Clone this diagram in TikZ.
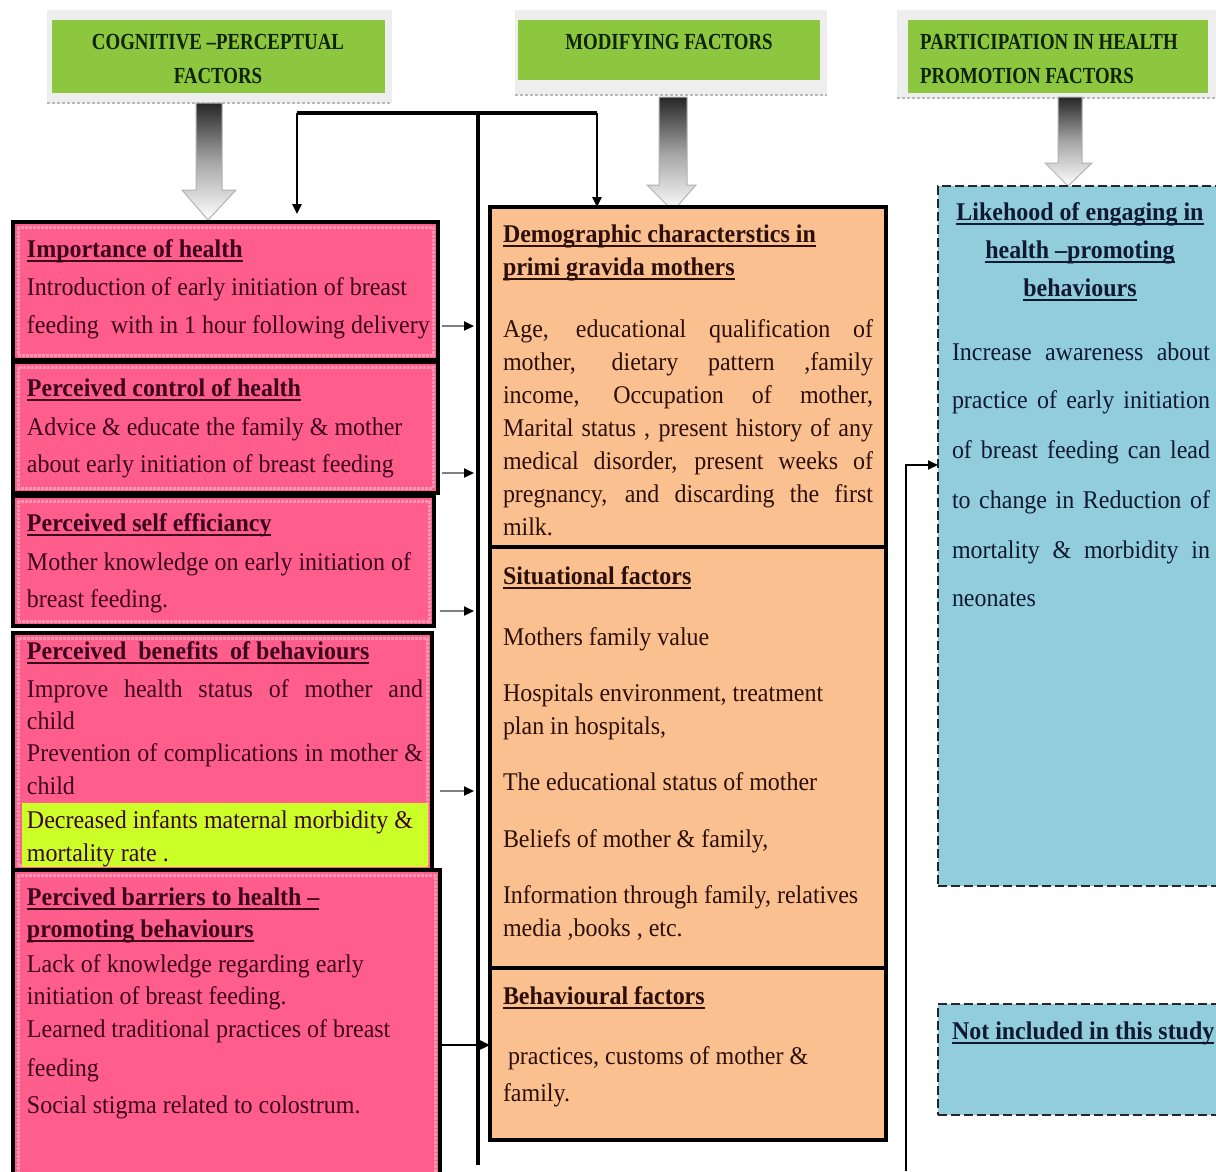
\documentclass[tikz,border=0pt]{standalone}
\usepackage{fontspec}
\setmainfont{Liberation Serif}[FakeStretch=0.94]
\newfontfamily\hdfont{Liberation Serif}[FakeStretch=0.82]
\usetikzlibrary{arrows.meta}
\definecolor{greenc}{RGB}{141,198,63}
\definecolor{pinkc}{RGB}{255,94,140}
\definecolor{pinkl}{RGB}{255,150,180}
\definecolor{orgc}{RGB}{250,192,143}
\definecolor{bluec}{RGB}{146,205,220}
\definecolor{hlc}{RGB}{204,255,40}
\definecolor{pinktxt}{RGB}{60,5,30}
\definecolor{orgtxt}{RGB}{45,15,10}
\definecolor{bluetxt}{RGB}{15,25,50}
\definecolor{hdtxtc}{RGB}{15,35,5}
\definecolor{framec}{RGB}{238,238,238}
\newsavebox\ttlbox
\newcommand\ttl[1]{\sbox\ttlbox{\bfseries #1}\rlap{\rule[-4.5pt]{\wd\ttlbox}{1.8pt}}\usebox\ttlbox}
\newcommand\jst[2]{\makebox[#1][s]{#2}}
\newcounter{tln}
\newcommand\tline[4][]{\stepcounter{tln}\node[txt,#1] (t\thetln) at (#2,#3) {#4};}
\begin{document}
\begin{tikzpicture}[x=1pt,y=-1pt,
  boxbase/.style={anchor=north west, inner sep=0pt, outer sep=0pt},
  pinkbox/.style={boxbase, draw=black, line width=3.4pt, fill=pinkc},
  orgbox/.style={boxbase, draw=black, line width=3.4pt, fill=orgc},
  bluebox/.style={boxbase, draw=black!85, line width=1.5pt, dash pattern=on 9pt off 4pt, fill=bluec},
  hdframe/.style={boxbase, fill=framec},
  hdbox/.style={boxbase, fill=greenc},
  hdtxt/.style={inner sep=0pt, font=\hdfont\bfseries\fontsize{23}{28}\selectfont, text=hdtxtc},
  txt/.style={inner sep=0pt, outer sep=0pt, anchor=base west, font=\fontsize{25.5}{30}\selectfont},
  pk/.style={text=pinktxt},
  og/.style={text=orgtxt},
  bl/.style={text=bluetxt},
  pinkframe/.style={draw=pinkl, line width=3pt, densely dotted},
  bkarrow/.style={top color=black!85, bottom color=white, middle color=black!35, draw=gray!60, line width=1pt},
  conn/.style={draw=black, line width=3.2pt},
  tip/.style={-{Triangle[length=10pt,width=9pt]}},
  sarrow/.style={draw=black!50, line width=2.2pt, -{Triangle[length=10pt,width=9pt,color=black]}}
]
\useasboundingbox (0,0) rectangle (1216,1171);
\clip (0,0) rectangle (1216,1171);
\fill[white] (0,0) rectangle (1216,1171);

% ---------- headers ----------
\node[hdframe, minimum width=345, minimum height=93] (h1f) at (47,10) {};
\node[hdbox, minimum width=333, minimum height=73] (h1) at (52,20) {};
\node[hdtxt] (h1a) at (218,42) {COGNITIVE –PERCEPTUAL};
\node[hdtxt] (h1b) at (218,76) {FACTORS};
\node[hdframe, minimum width=312, minimum height=85] (h2f) at (515,10) {};
\node[hdbox, minimum width=302, minimum height=60] (h2) at (518,20) {};
\node[hdtxt] (h2a) at (669,42) {MODIFYING FACTORS};
\node[hdframe, minimum width=330, minimum height=88] (h3f) at (897,10) {};
\node[hdbox, minimum width=300, minimum height=73] (h3) at (908,20) {};
\node[hdtxt, anchor=west] (h3a) at (920,42) {PARTICIPATION IN HEALTH};
\node[hdtxt, anchor=west] (h3b) at (920,76) {PROMOTION FACTORS};
\foreach \f in {h1f,h2f,h3f}{
  \draw[gray!55, line width=1.5pt, densely dashed] (\f.south west) -- (\f.south east);
}

% ---------- block arrows ----------
\shade[bkarrow] (196,103) -- (222,103) -- (222,190) -- (236,190) -- (208,220) -- (182,190) -- (196,190) -- cycle;
\shade[bkarrow] (659,97) -- (687,97) -- (687,185) -- (696,185) -- (673,211) -- (647,185) -- (659,185) -- cycle;
\shade[bkarrow] (1058,97) -- (1082,97) -- (1082,163) -- (1092,163) -- (1068,186) -- (1045,163) -- (1058,163) -- cycle;

% ---------- left column ----------
\node[pinkbox, minimum width=425, minimum height=138] (p1) at (13,222) {};
\node[pinkbox, minimum width=425, minimum height=131] (p2) at (13,362) {};
\node[pinkbox, minimum width=421, minimum height=130] (p3) at (13,496) {};
\node[pinkbox, minimum width=419, minimum height=237] (p4) at (13,633) {};
\node[pinkbox, minimum width=427, minimum height=320] (p5) at (13,870) {};
\foreach \b in {p1,p2,p3,p4,p5}{
  \draw[pinkframe] ([shift={(5,5)}]\b.north west) rectangle ([shift={(-5,-5)}]\b.south east);
}
\node[boxbase, fill=hlc, minimum width=406, minimum height=64] (hl) at (22,803) {};

\tline[pk]{27}{257}{\ttl{Importance of health}}
\tline[pk]{27}{295}{Introduction of early initiation of breast}
\tline[pk]{27}{333}{feeding\ \ with in 1 hour following delivery}
\tline[pk]{27}{396}{\ttl{Perceived control of health}}
\tline[pk]{27}{435}{Advice \& educate the family \& mother}
\tline[pk]{27}{472}{about early initiation of breast feeding}
\tline[pk]{27}{531}{\ttl{Perceived self efficiancy}}
\tline[pk]{27}{570}{Mother knowledge on early initiation of}
\tline[pk]{27}{607}{breast feeding.}
\tline[pk]{27}{659}{\ttl{Perceived\ \ benefits\ \ of behaviours}}
\tline[pk]{27}{697}{\jst{396pt}{Improve health status of mother and}}
\tline[pk]{27}{729}{child}
\tline[pk]{27}{761}{\jst{396pt}{Prevention of complications in mother \&}}
\tline[pk]{27}{794}{child}
\tline[pk]{27}{828}{Decreased infants maternal morbidity \&}
\tline[pk]{27}{861}{mortality rate .}
\tline[pk]{27}{905}{\ttl{Percived barriers to health –}}
\tline[pk]{27}{937}{\ttl{promoting behaviours}}
\tline[pk]{27}{972}{Lack of knowledge regarding early}
\tline[pk]{27}{1004}{initiation of breast feeding.}
\tline[pk]{27}{1037}{Learned traditional practices of breast}
\tline[pk]{27}{1076}{feeding}
\tline[pk]{27}{1113}{Social stigma related to colostrum.}

% ---------- middle column ----------
\node[orgbox, minimum width=396, minimum height=340] (o1) at (490,207) {};
\node[orgbox, minimum width=396, minimum height=421] (o2) at (490,547) {};
\node[orgbox, minimum width=396, minimum height=172] (o3) at (490,968) {};

\tline[og]{503}{242}{\ttl{Demographic characterstics in}}
\tline[og]{503}{275}{\ttl{primi gravida mothers}}
\tline[og]{503}{337}{\jst{370pt}{Age, educational qualification of}}
\tline[og]{503}{370}{\jst{370pt}{mother, dietary pattern ,family}}
\tline[og]{503}{403}{\jst{370pt}{income, Occupation of mother,}}
\tline[og]{503}{436}{\jst{370pt}{Marital status , present history of any}}
\tline[og]{503}{469}{\jst{370pt}{medical disorder, present weeks of}}
\tline[og]{503}{502}{\jst{370pt}{pregnancy, and discarding the first}}
\tline[og]{503}{535}{milk.}
\tline[og]{503}{584}{\ttl{Situational factors}}
\tline[og]{503}{645}{Mothers family value}
\tline[og]{503}{701}{Hospitals environment, treatment}
\tline[og]{503}{734}{plan in hospitals,}
\tline[og]{503}{790}{The educational status of mother}
\tline[og]{503}{847}{Beliefs of mother \& family,}
\tline[og]{503}{903}{Information through family, relatives}
\tline[og]{503}{936}{media ,books , etc.}
\tline[og]{503}{1004}{\ttl{Behavioural factors}}
\tline[og]{508}{1064}{practices, customs of mother \&}
\tline[og]{503}{1101}{family.}

% ---------- right column ----------
\node[bluebox, minimum width=300, minimum height=700] (b1) at (938,186) {};
\node[bluebox, minimum width=300, minimum height=111] (b2) at (938,1004) {};

\tline[bl,anchor=base]{1080}{220}{\ttl{Likehood of engaging in}}
\tline[bl,anchor=base]{1080}{258}{\ttl{health –promoting}}
\tline[bl,anchor=base]{1080}{296}{\ttl{behaviours}}
\tline[bl]{952}{360}{\jst{258pt}{Increase awareness about}}
\tline[bl]{952}{408}{\jst{258pt}{practice of early initiation}}
\tline[bl]{952}{458}{\jst{258pt}{of breast feeding can lead}}
\tline[bl]{952}{508}{\jst{258pt}{to change in Reduction of}}
\tline[bl]{952}{558}{\jst{258pt}{mortality \& morbidity in}}
\tline[bl]{952}{606}{neonates}
\tline[bl]{952}{1039}{\ttl{Not included in this study}}

% ---------- connectors ----------
\coordinate (vt) at (478,113);
\coordinate (vb) at (478,1165);
\coordinate (tlft) at (297,113);
\coordinate (trgt) at (597,113);
\draw[conn] (vb) -- (vt);
\draw[conn] (tlft) -- (trgt);
\draw[conn, line width=2.4pt, tip, shorten >=8pt] (tlft) -- (tlft |- p1.north);
\draw[conn, line width=2.4pt, tip] (trgt) -- (trgt |- o1.north);

\coordinate (a1) at (474,326);
\coordinate (a2) at (474,473);
\coordinate (a3) at (474,611);
\coordinate (a4) at (474,791);
\coordinate (a5) at (474,1045);
\draw[sarrow, shorten <=4pt] (p1.east |- a1) -- (a1);
\draw[sarrow, shorten <=4pt] (p2.east |- a2) -- (a2);
\draw[sarrow, shorten <=6pt] (p3.east |- a3) -- (a3);
\draw[sarrow, shorten <=8pt] (p4.east |- a4) -- (a4);
\draw[sarrow, draw=black] (p5.east |- a5) -- (o3.west |- a5);

\coordinate (rb) at (906,1171);
\coordinate (rt) at (906,465);
\draw[conn, line width=1.8pt, tip] (rb) -- (rt) -- (b1.west |- rt);
\end{tikzpicture}
\end{document}
